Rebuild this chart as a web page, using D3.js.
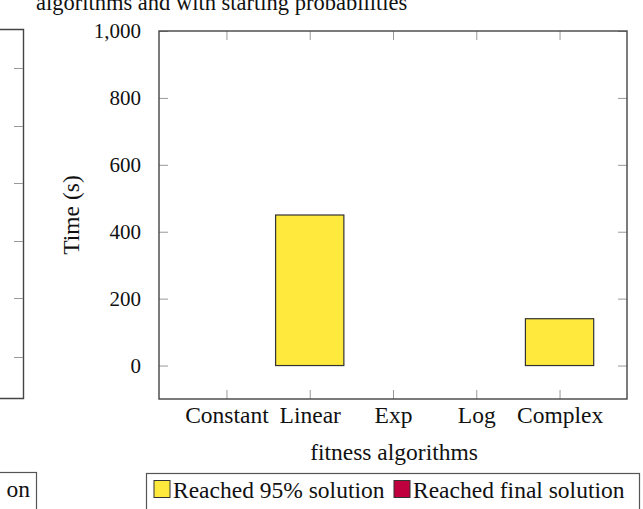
<!DOCTYPE html>
<html>
<head>
<meta charset="utf-8">
<script src="https://cdn.jsdelivr.net/npm/d3@7"></script>
<style>
  html, body { margin: 0; padding: 0; background: #fff; }
  svg { display: block; }
  text { font-family: "Liberation Serif", "DejaVu Serif", serif; fill: #111; }
</style>
</head>
<body>
<svg id="chart" width="643" height="509"></svg>
<script>
// Fitness algorithms and time to reach the 95% solution (seconds)
const categories = ["Constant", "Linear", "Exp", "Log", "Complex"];
const reached95 = [null, 450, null, null, 140];
const reachedFinal = [null, null, null, null, null];
const yTicks = [0, 200, 400, 600, 800, 1000];
const seriesNames = ["Reached 95% solution", "Reached final solution"];
const seriesColors = ["#ffe93c", "#c0003e"];

// Neighbouring panel (only its right edge is visible)
const sideTicks = [68, 126, 183, 241, 298, 357];

const svg = d3.select("#chart");
const frame = { left: 159, right: 627, top: 31, bottom: 399 };
const labelSize = 23.5;

// Partial title line of the figure caption
svg.append("text")
  .attr("x", 36).attr("y", 10)
  .attr("font-size", 22.5)
  .text("algorithms and with starting probabilities");

// Left neighbour panel edge
const side = svg.append("g");
side.append("path")
  .attr("d", `M-2,29.5H23.5V398.5H-2`)
  .attr("fill", "none").attr("stroke", "#444").attr("stroke-width", 1.4);
side.selectAll("line.t").data(sideTicks).join("line")
  .attr("x1", 14).attr("x2", 23).attr("y1", d => d + 0.5).attr("y2", d => d + 0.5)
  .attr("stroke", "#999").attr("stroke-width", 1);
side.append("rect")
  .attr("x", -10).attr("y", 472.5).attr("width", 46.5).attr("height", 50)
  .attr("fill", "#fff").attr("stroke", "#555").attr("stroke-width", 1.2);
side.append("text")
  .attr("x", 30).attr("y", 497).attr("text-anchor", "end")
  .attr("font-size", labelSize).text("on");

// Scales
const x = d3.scalePoint().domain(categories)
  .range([frame.left, frame.right]).padding(0.81);
const y = d3.scaleLinear().domain([-100, 1000])
  .range([frame.bottom, frame.top]);
const barW = x.step() * 0.82;

const tickLen = 9;

// Axes (ticks drawn inward on all four sides)
const axisStyle = g => {
  g.select(".domain").remove();
  g.selectAll(".tick line").attr("stroke", "#999").attr("stroke-width", 1);
  g.selectAll(".tick text").attr("fill", "#111")
    .attr("font-family", "Liberation Serif, serif");
};

svg.append("g")
  .attr("transform", `translate(${frame.left},0)`)
  .call(d3.axisLeft(y).tickValues(yTicks).tickFormat(d3.format(","))
    .tickSizeInner(-tickLen).tickSizeOuter(0).tickPadding(18))
  .call(axisStyle)
  .call(g => g.selectAll(".tick text").attr("font-size", 21));

svg.append("g")
  .attr("transform", `translate(${frame.right},0)`)
  .call(d3.axisRight(y).tickValues(yTicks).tickFormat("")
    .tickSizeInner(-tickLen).tickSizeOuter(0))
  .call(axisStyle);

svg.append("g")
  .attr("transform", `translate(0,${frame.bottom})`)
  .call(d3.axisBottom(x).tickSizeInner(-tickLen).tickSizeOuter(0))
  .call(axisStyle)
  .call(g => g.selectAll(".tick text")
    .attr("font-size", labelSize).attr("y", 24).attr("dy", null));

svg.append("g")
  .attr("transform", `translate(0,${frame.top})`)
  .call(d3.axisTop(x).tickFormat("").tickSizeInner(-tickLen).tickSizeOuter(0))
  .call(axisStyle);

// Bars
const barData = categories.map((c, i) => ({ c, v: reached95[i] })).filter(d => d.v != null);
svg.append("g").selectAll("rect").data(barData).join("rect")
  .attr("x", d => x(d.c) - barW / 2)
  .attr("width", barW)
  .attr("y", d => y(d.v))
  .attr("height", d => y(0) - y(d.v))
  .attr("fill", seriesColors[0])
  .attr("stroke", "#333").attr("stroke-width", 1.2);

const finalData = categories.map((c, i) => ({ c, v: reachedFinal[i] })).filter(d => d.v != null);
svg.append("g").selectAll("rect").data(finalData).join("rect")
  .attr("x", d => x(d.c) + barW / 2)
  .attr("width", barW)
  .attr("y", d => y(d.v))
  .attr("height", d => y(0) - y(d.v))
  .attr("fill", seriesColors[1])
  .attr("stroke", "#333").attr("stroke-width", 1.2);

// Plot frame
svg.append("rect")
  .attr("x", frame.left).attr("y", frame.top)
  .attr("width", frame.right - frame.left).attr("height", frame.bottom - frame.top)
  .attr("fill", "none").attr("stroke", "#444").attr("stroke-width", 1.4);

// Axis titles
svg.append("text")
  .attr("transform", `translate(79,215) rotate(-90)`)
  .attr("text-anchor", "middle").attr("font-size", labelSize)
  .text("Time (s)");

svg.append("text")
  .attr("x", (frame.left + frame.right) / 2 + 1).attr("y", 460)
  .attr("text-anchor", "middle").attr("font-size", labelSize)
  .text("fitness algorithms");

// Legend
const legend = svg.append("g");
legend.append("rect")
  .attr("x", 146.5).attr("y", 473.5).attr("width", 493).attr("height", 50)
  .attr("fill", "#fff").attr("stroke", "#555").attr("stroke-width", 1.2);
const legendX = [154, 394];
seriesNames.forEach((name, i) => {
  legend.append("rect")
    .attr("x", legendX[i]).attr("y", 480.5).attr("width", 16).attr("height", 17)
    .attr("fill", seriesColors[i]).attr("stroke", "#333").attr("stroke-width", 1);
  legend.append("text")
    .attr("x", legendX[i] + 19).attr("y", 498)
    .attr("font-size", labelSize).text(name);
});
</script>
</body>
</html>
